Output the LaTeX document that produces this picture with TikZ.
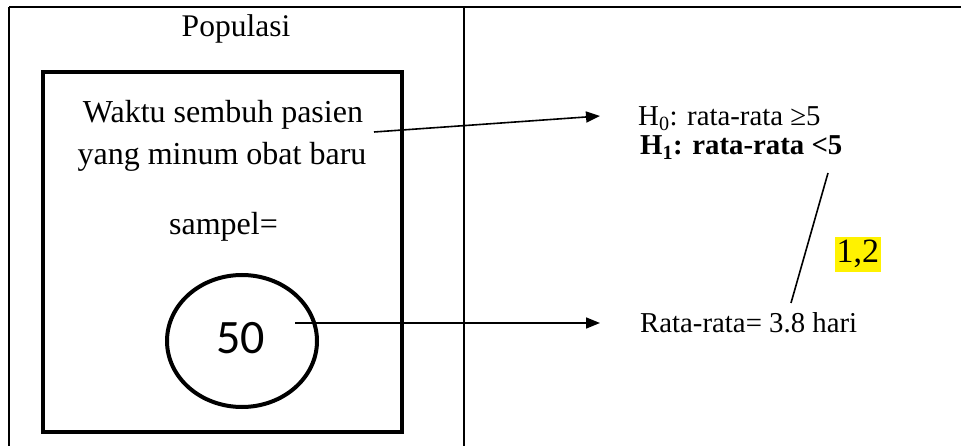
\documentclass[tikz,border=0pt]{standalone}
\usepackage{fontspec}
\setmainfont{Liberation Serif}
\newfontfamily\calfont{Carlito}
\usetikzlibrary{arrows.meta,shapes.geometric}
\begin{document}
\begin{tikzpicture}[x=1pt,y=-1pt,
  lbl/.style={inner sep=0pt, font=\fontsize{32}{38}\selectfont},
  rlbl/.style={inner sep=0pt, anchor=base west, font=\fontsize{28.8}{34}\selectfont},
  conn/.style={line width=1.6pt, -{Triangle[length=14pt,width=11pt]}},
  thin/.style={line width=1.6pt}]
\useasboundingbox (0,0) rectangle (961,446);
% table lines
\draw[line width=2pt] (9,7) -- (961,7);
\draw[line width=2pt] (9,7) -- (9,446);
\draw[line width=1.6pt] (464,7) -- (464,446);
% inner box
\draw[line width=4.5pt] (43,72) rectangle (402,432);
% ellipse
\node[draw, line width=4pt, ellipse, minimum width=150pt, minimum height=132pt, inner sep=0pt] (ell) at (242,341) {};
\node[inner sep=0pt, font=\calfont\fontsize{48}{56}\selectfont] (n50) at (240.5,338.5) {50};
% texts
\node[lbl, anchor=base, font=\fontsize{31.5}{37}\selectfont] (pop) at (236,37) {Populasi};
\node[lbl, anchor=base] (w1) at (223,123) {Waktu sembuh pasien};
\node[lbl, anchor=base] (w2) at (222,165) {yang minum obat baru};
\node[lbl, anchor=base] (samp) at (223.5,235) {sampel=};
\node[rlbl] (h0) at (638,126) {H\textsubscript{0}: rata-rata ≥5};
\node[rlbl, font=\fontsize{28.8}{34}\selectfont\bfseries] (h1) at (640,155) {H\textsubscript{1}: rata-rata <5};
\node[rlbl] (rr) at (640,332) {Rata-rata= 3.8 hari};
\node[anchor=base west, fill=yellow, inner xsep=1.5pt, inner ysep=0pt, text height=26pt, text depth=9pt, font=\fontsize{34}{40}\selectfont] (val) at (835,263) {1,2};
% connectors
\coordinate (a1s) at (374,132);
\coordinate (a1e) at (600,116);
\coordinate (a2s) at (295,323);
\coordinate (a2e) at (600,323);
\coordinate (ls) at (828,173);
\coordinate (le) at (791,303);
\draw[conn] (a1s) -- (a1e);
\draw[conn] (a2s) -- (a2e);
\draw[thin] (ls) -- (le);
\end{tikzpicture}
\end{document}
